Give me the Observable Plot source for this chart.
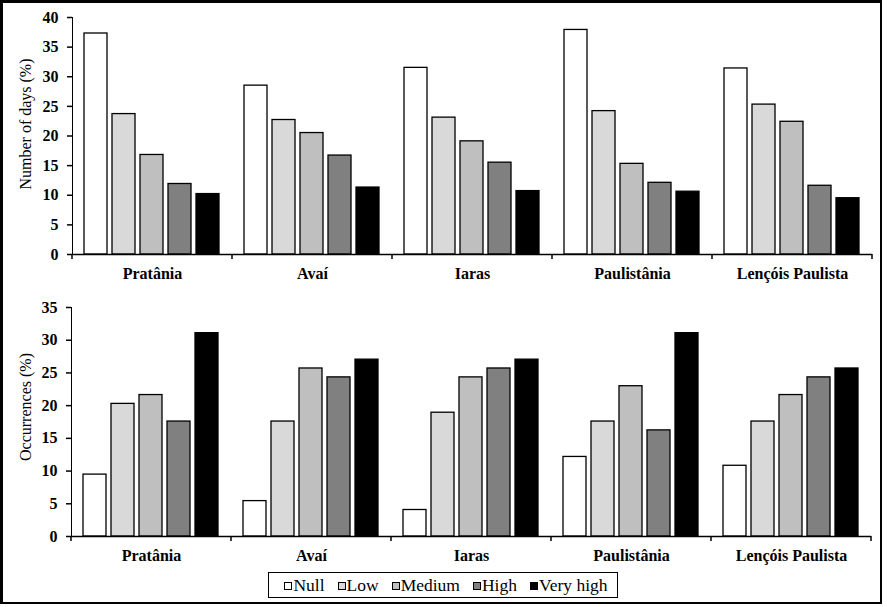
<!DOCTYPE html>
<html>
<head>
<meta charset="utf-8">
<script src="https://cdn.jsdelivr.net/npm/d3@7"></script>
<script src="https://cdn.jsdelivr.net/npm/@observablehq/plot@0.6"></script>
<style>
  html, body { margin: 0; padding: 0; background: #fff; }
  #wrap { position: relative; width: 887px; height: 607px; background: #fff; overflow: hidden; font-family: 'Liberation Serif'; }
  #border { position: absolute; left: 0; top: 0; width: 882px; height: 604px; box-sizing: border-box; border: 2px solid #000; border-top-width: 3px; border-left-width: 3px; }
  .chart { position: absolute; left: 0; }
  .chart svg { display: block; }
  .chart svg, .chart svg text { font-family: 'Liberation Serif' !important; }
  g[aria-label="y-axis tick label"], g[aria-label="fx-axis tick label"] { font-weight: bold; }
  g[aria-label="y-axis tick"] path, g[aria-label="y-axis line"] line, g[aria-label="y-axis line"] path { stroke-width: 1.5; }
  .ylabel { position: absolute; width: 240px; text-align: center; font-size: 16px; line-height: 16px; transform: rotate(-90deg); transform-origin: center center; white-space: nowrap; font-family: 'Liberation Serif'; }
  #legend { position: absolute; left: 268px; top: 572px; width: 350px; height: 26px; box-sizing: border-box; border: 1.5px solid #000; padding-left: 6px; display: flex; align-items: center; justify-content: center; gap: 13px; font-size: 17.5px; font-family: 'Liberation Serif'; }
  #legend .item { display: flex; align-items: center; gap: 1px; }
  #legend .sw { width: 6px; height: 6px; border: 1px solid #000; display: inline-block; margin-top: 2px; }
</style>
</head>
<body>
<div id="wrap">
  <div id="top" class="chart" style="top:0px"></div>
  <div id="bottom" class="chart" style="top:290px"></div>
  <div id="label1" class="ylabel"></div>
  <div id="label2" class="ylabel"></div>
  <div id="legend"></div>
  <div id="border"></div>
</div>
<script>
const sites = ["Pratânia", "Avaí", "Iaras", "Paulistânia", "Lençóis Paulista"];
const classes = ["Null", "Low", "Medium", "High", "Very high"];
const classColors = ["#ffffff", "#d9d9d9", "#bfbfbf", "#808080", "#000000"];

// Top panel: Number of days (%) per class, by site
const daysNull     = [37.3, 28.5, 31.5, 37.9, 31.4];
const daysLow      = [23.7, 22.7, 23.1, 24.2, 25.3];
const daysMedium   = [16.8, 20.5, 19.1, 15.3, 22.4];
const daysHigh     = [11.9, 16.7, 15.5, 12.1, 11.6];
const daysVeryHigh = [10.2, 11.3, 10.7, 10.6, 9.5];

// Bottom panel: Occurrences (%) per class, by site
const occNull     = [9.46, 5.41, 4.05, 12.16, 10.81];
const occLow      = [20.27, 17.57, 18.92, 17.57, 17.57];
const occMedium   = [21.62, 25.68, 24.32, 22.97, 21.62];
const occHigh     = [17.57, 24.32, 25.68, 16.22, 24.32];
const occVeryHigh = [31.08, 27.03, 27.03, 31.08, 25.68];

const daysTicks = [0, 5, 10, 15, 20, 25, 30, 35, 40];
const occTicks = [0, 5, 10, 15, 20, 25, 30, 35];
const daysLabel = "Number of days (%)";
const occLabel = "Occurrences (%)";

function toRows(series) {
  const rows = [];
  sites.forEach((site, i) => {
    classes.forEach((cls, j) => rows.push({site, cls, value: series[j][i]}));
  });
  return rows;
}

const daysData = toRows([daysNull, daysLow, daysMedium, daysHigh, daysVeryHigh]);
const occData = toRows([occNull, occLow, occMedium, occHigh, occVeryHigh]);

function makeChart(data, opts) {
  const plot = Plot.plot({
    width: 887,
    height: opts.height,
    marginLeft: opts.marginLeft,
    marginRight: opts.marginRight,
    marginTop: opts.marginTop,
    marginBottom: opts.marginBottom,
    style: {fontFamily: "Liberation Serif", fontSize: "16px", background: "transparent", color: "#000", overflow: "visible"},
    fx: {domain: sites, padding: 0, label: null, axis: "bottom", tickSize: 0, tickPadding: 13},
    x: {domain: classes, paddingInner: 0.168, paddingOuter: 0.42, axis: null},
    y: {domain: opts.domain, ticks: opts.ticks, tickSize: 5, tickPadding: 9, line: true, label: null},
    color: {domain: classes, range: classColors},
    marks: [
      Plot.barY(data, {fx: "site", x: "cls", y: "value", fill: "cls", stroke: "#000", strokeWidth: 1.3}),
      Plot.ruleY([0], {stroke: "#000", strokeWidth: 1.5})
    ]
  });
  // boundary ticks between site groups, placed with the plot's own fx and y scales
  const fx = plot.scale("fx");
  const y = plot.scale("y");
  const y0 = y.apply(0);
  const edges = fx.domain.map(d => fx.apply(d));
  edges.push(fx.apply(fx.domain[fx.domain.length - 1]) + fx.bandwidth);
  d3.select(plot).append("g").attr("aria-label", "group ticks")
    .selectAll("line").data(edges).join("line")
    .attr("x1", d => d).attr("x2", d => d)
    .attr("y1", y0).attr("y2", y0 + 5)
    .attr("stroke", "#000").attr("stroke-width", 1.5);
  return plot;
}

document.getElementById("top").append(makeChart(daysData, {
  height: 290, marginLeft: 71, marginRight: 15, marginTop: 17, marginBottom: 36,
  domain: [0, 40], ticks: daysTicks
}));
document.getElementById("bottom").append(makeChart(occData, {
  height: 280, marginLeft: 70, marginRight: 16, marginTop: 17, marginBottom: 34,
  domain: [0, 35], ticks: occTicks
}));

function placeLabel(id, text, cx, cy) {
  const el = document.getElementById(id);
  el.textContent = text;
  el.style.left = (cx - 120) + "px";
  el.style.top = (cy - 8) + "px";
}
placeLabel("label1", daysLabel, 26, 124);
placeLabel("label2", occLabel, 26, 407);

const legend = document.getElementById("legend");
classes.forEach((cls, i) => {
  const item = document.createElement("div");
  item.className = "item";
  const sw = document.createElement("span");
  sw.className = "sw";
  sw.style.background = classColors[i];
  const t = document.createElement("span");
  t.textContent = cls;
  item.append(sw, t);
  legend.append(item);
});
</script>
</body>
</html>
